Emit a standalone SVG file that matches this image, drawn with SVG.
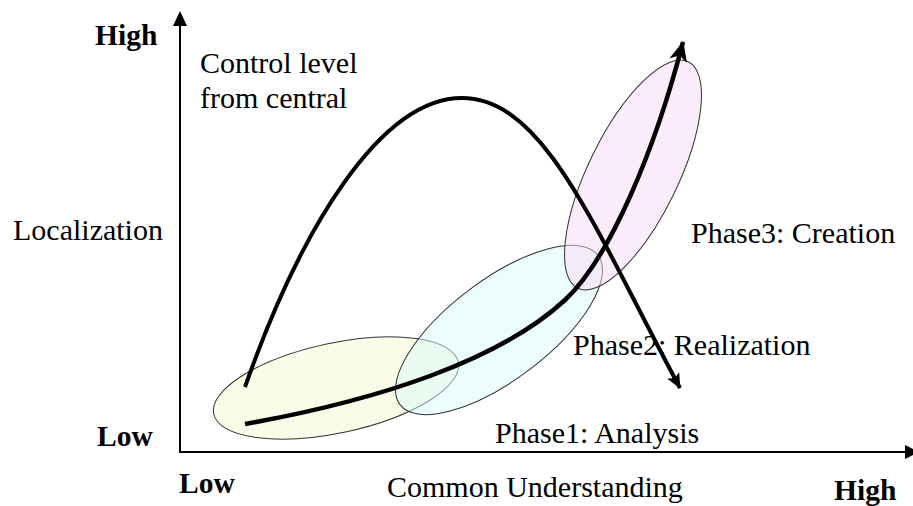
<svg xmlns="http://www.w3.org/2000/svg" width="913" height="506" viewBox="0 0 913 506">
<defs>
<style>
.t{font-size:30px;fill:#000}
.b{font-weight:bold;font-size:29.5px}
.ell{stroke:#333;stroke-width:1}
.curve{fill:none;stroke:#000;stroke-linecap:butt}
.axis{stroke:#000;stroke-width:2;fill:none}
</style>
<marker id="headBig" viewBox="0 0 20 20" refX="19" refY="10" markerUnits="userSpaceOnUse" markerWidth="22" markerHeight="20" orient="auto">
<path d="M0,1 L20,10 L0,19 L5,10 Z" fill="#000"/>
</marker>
<marker id="headSmall" viewBox="0 0 20 20" refX="19" refY="10" markerUnits="userSpaceOnUse" markerWidth="16" markerHeight="15" orient="auto">
<path d="M0,1 L20,10 L0,19 L4,10 Z" fill="#000"/>
</marker>
</defs>
<rect width="913" height="506" fill="#fff"/>
<g id="phase1">
<ellipse class="ell" cx="336" cy="388" rx="125" ry="45" transform="rotate(-12 336 388)" fill="#f5f9d0" fill-opacity="0.5"/>
</g>
<g id="phase2">
<ellipse class="ell" cx="499" cy="330" rx="124" ry="50" transform="rotate(-37 499 330)" fill="#d9fbfb" fill-opacity="0.5"/>
</g>
<g id="phase3">
<ellipse class="ell" cx="633" cy="175" rx="126" ry="45" transform="rotate(-64 633 175)" fill="#f7d9f7" fill-opacity="0.5"/>
</g>
<g id="axes">
<line class="axis" x1="180" y1="453" x2="180" y2="22"/>
<polygon points="180,11 187,26 173,26" fill="#000"/>
<line class="axis" x1="179" y1="452" x2="908" y2="452"/>
<polygon points="919,452 905,445 905,459" fill="#000"/>
</g>
<g id="connectors">
<path class="curve" stroke-width="4.5" d="M245,424 C380,400 500,360 565,300 C610,258 655,150 683,42" marker-end="url(#headBig)"/>
<path class="curve" stroke-width="4" d="M245,387 C300,230 380,98 462,98 C545,98 595,230 680,388" marker-end="url(#headSmall)"/>
</g>
<g id="labels" font-family="'Liberation Serif', 'Times New Roman', 'DejaVu Serif', serif">
<text class="t b" x="95" y="45">High</text>
<text class="t b" x="97" y="446">Low</text>
<text class="t b" x="179" y="493">Low</text>
<text class="t b" x="834" y="500">High</text>
<text class="t" x="13" y="240">Localization</text>
<text class="t" x="200" y="73">Control level</text>
<text class="t" x="200" y="108">from central</text>
<text class="t" x="387" y="497">Common Understanding</text>
</g>
<g id="phase-labels" font-family="'Liberation Serif', 'Times New Roman', 'DejaVu Serif', serif">
<text class="t" x="691" y="243">Phase3: Creation</text>
<text class="t" x="573" y="355">Phase2: Realization</text>
<text class="t" x="495" y="443">Phase1: Analysis</text>
</g>
</svg>
